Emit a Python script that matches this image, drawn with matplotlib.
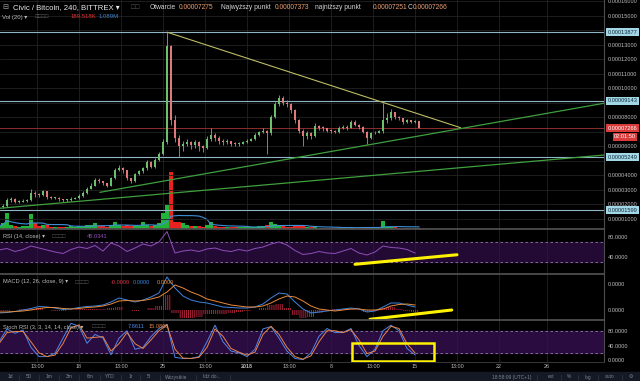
import numpy as np
import pandas as pd
import matplotlib
matplotlib.use('Agg')
import matplotlib.pyplot as plt
from matplotlib.patches import Rectangle
from matplotlib.lines import Line2D

plt.rcParams['font.family'] = ['Liberation Sans', 'DejaVu Sans']
plt.rcParams['hatch.linewidth'] = 0.7

# ---- data (prices in units of 1e-5 BTC, time in days from 25 Dec 00:00) ----
first_open = 1.80
close = [1.85,
         1.90, 2.30, 2.40, 2.20, 2.20, 2.25, 2.30, 2.80, 2.70, 2.65,
         2.90, 2.50, 2.45, 2.45, 2.35, 2.30, 2.30, 2.40, 2.45, 2.60,
         2.80, 3.10, 3.30, 3.70, 3.60, 3.45, 3.30, 3.80, 4.40, 4.50,
         4.35, 3.80, 3.60, 4.10, 4.30, 4.50, 4.95, 4.60, 5.10, 5.50,
         6.30, 12.90, 7.80, 6.60, 6.00, 6.20, 6.30, 6.10, 6.30, 6.00,
         5.90, 6.50, 6.80, 6.60, 6.40, 6.30, 6.35, 6.20, 6.15, 6.20,
         6.30, 6.40, 6.50, 6.80, 7.00, 7.10, 6.90, 8.05, 8.90, 9.35,
         9.00, 8.90, 8.50, 7.80, 7.10, 6.70, 6.90, 6.70, 7.40, 7.30,
         7.25, 7.10, 7.05, 7.00, 7.30, 7.35, 7.30, 7.70, 7.50, 7.35,
         7.00, 6.60, 6.90, 6.95, 7.05, 7.80, 7.95, 8.35, 8.00, 7.95,
         7.70, 7.80, 7.70, 7.75, 7.27]
high = [1.95,
        2.00, 2.45, 2.55, 2.45, 2.30, 2.35, 2.40, 3.10, 2.90, 2.80,
        3.00, 2.95, 2.60, 2.55, 2.50, 2.40, 2.40, 2.50, 2.55, 2.70,
        2.90, 3.20, 3.45, 3.85, 3.80, 3.65, 3.50, 3.90, 4.55, 4.70,
        4.60, 4.40, 3.85, 4.20, 4.40, 4.60, 5.05, 5.00, 5.20, 5.65,
        6.50, 13.88, 13.00, 8.20, 6.80, 6.40, 6.50, 6.40, 6.45, 6.35,
        6.10, 6.70, 7.27, 6.90, 6.70, 6.50, 6.50, 6.40, 6.30, 6.30,
        6.40, 6.50, 6.60, 6.90, 7.10, 7.25, 7.15, 8.20, 9.10, 9.55,
        9.45, 9.20, 9.00, 8.60, 7.90, 7.20, 7.10, 7.00, 7.60, 7.50,
        7.40, 7.30, 7.20, 7.15, 7.40, 7.50, 7.45, 7.85, 7.80, 7.55,
        7.40, 7.05, 7.00, 7.10, 7.15, 9.00, 8.30, 8.55, 8.40, 8.10,
        7.95, 7.90, 7.85, 7.85, 7.78]
low = [1.75,
       1.75, 1.85, 2.20, 2.10, 2.10, 2.15, 2.20, 2.25, 2.55, 2.55,
       2.60, 2.40, 2.35, 2.35, 2.25, 2.20, 2.20, 2.25, 2.35, 2.40,
       2.55, 2.75, 3.05, 3.25, 3.45, 3.35, 3.20, 3.25, 3.75, 4.30,
       4.20, 3.70, 3.45, 3.55, 4.00, 4.20, 4.40, 4.50, 4.55, 5.00,
       5.40, 6.20, 7.50, 6.30, 5.30, 5.70, 6.00, 5.80, 5.90, 5.70,
       5.60, 5.85, 6.40, 6.40, 6.20, 6.10, 6.15, 6.05, 6.00, 6.05,
       6.15, 6.25, 6.35, 6.45, 6.70, 6.90, 5.50, 6.80, 7.95, 8.80,
       8.85, 8.70, 8.30, 7.60, 6.90, 6.00, 6.50, 6.50, 6.65, 7.15,
       7.10, 7.00, 6.95, 6.90, 6.95, 7.20, 7.15, 7.25, 7.40, 7.20,
       6.90, 6.20, 6.50, 6.85, 6.90, 6.95, 7.65, 7.85, 7.90, 7.80,
       7.55, 7.60, 7.60, 7.60, 7.25]
volume = [1.2, 2.0, 5.8, 1.5, 1.0, 0.8, 1.0, 1.2, 5.3, 2.0,
          1.2, 1.5, 1.3, 0.9, 0.8, 0.9, 0.7, 0.8, 1.1, 0.9,
          1.0, 1.2, 1.5, 1.3, 2.0, 1.2, 1.0, 0.9, 1.4, 2.6,
          1.5, 1.0, 1.3, 1.0, 1.1, 1.2, 2.6, 1.5, 1.2, 1.6,
          2.0, 5.8, 8.7, 20.6, 2.6, 2.5, 2.0, 1.5, 1.2, 1.0,
          1.0, 0.9, 1.5, 2.5, 1.2, 0.9, 0.8, 0.7, 0.6, 0.6,
          0.6, 0.7, 0.7, 0.8, 0.9, 1.0, 1.2, 1.5, 2.5, 1.8,
          1.3, 1.0, 0.8, 0.8, 1.0, 1.0, 1.1, 0.7, 0.6, 0.7,
          0.5, 0.5, 0.5, 0.4, 0.5, 0.5, 0.5, 0.4, 0.6, 0.5,
          0.5, 0.6, 0.8, 0.5, 0.5, 0.5, 2.9, 0.9, 0.8, 0.6,
          0.5, 0.5, 0.4, 0.4, 0.4, 0.2]

rsi = [54, 57, 51, 55, 62, 58, 54, 50, 47, 55,
       60, 57, 63, 52, 68, 62, 51, 58, 66, 62,
       70, 91, 48, 52, 54, 51, 56, 58, 53, 51,
       55, 52, 57, 60, 66, 70, 64, 53, 45, 47,
       51, 48, 47, 52, 57, 48, 44, 50, 62, 59,
       58, 55, 48]
macd = [-3, -2.5, -1.5, 0, 1.5, 3.5, 3, 2, 0.5, 1,
        2.5, 3.5, 4, 5, 8, 12, 10, 8, 10, 13,
        17, 33, 22, 14, 10, 8, 7, 5, 3, 2.5,
        2, 2, 3, 6, 12, 17, 16, 8, 1, -3,
        -2, -1, 0, 1, 2, 1, -2, -1, 3, 7,
        7, 5, 3]
signal = [-2, -2, -1.5, -1, 0, 1.5, 2.5, 2.5, 1.5, 1,
          1.5, 2.5, 3, 4, 6, 9, 9.5, 9, 9.5, 11,
          13, 18, 25, 22, 18, 15, 11, 9, 7, 5,
          4, 3, 3, 4, 7, 11, 14, 13, 9, 4,
          1, 0, -1, 0, 1, 1, 0, 0, 1, 4,
          5.5, 6, 5]
stoch_k = [50, 85, 73, 82, 35, 10, 10, 19, 60, 100,
           92, 46, 70, 60, 15, 60, 80, 30, 35, 64,
           86, 97, 8, 5, 5, 10, 50, 95, 50, 25,
           20, 10, 30, 85, 91, 60, 25, 5, 2, 20,
           65, 86, 75, 75, 86, 40, 10, 30, 80, 95,
           80, 32, 15]
stoch_d = [45, 75, 78, 78, 50, 20, 10, 14, 45, 88,
           96, 60, 62, 64, 25, 45, 75, 45, 32, 55,
           80, 95, 30, 6, 5, 8, 35, 85, 65, 32,
           22, 14, 22, 70, 92, 70, 35, 10, 3, 12,
           50, 80, 80, 75, 83, 55, 18, 25, 65, 92,
           86, 45, 20]

level_lines = [13.877, 9.143, 5.249, 1.599]
last_price = 7.266
price_ticks = [1, 2, 3, 4, 6, 8, 10, 11, 12, 13, 15, 16]
trend_yellow = [(0.36, 13.877), (24.78, 7.30)]
trend_green = [[(-5.25, 2.84), (36.75, 8.98)], [(-13.58, 1.74), (36.75, 5.41)]]
rsi_mark = [(16.0, 25.4), (24.5, 44.5)]
macd_mark = [(17.25, -9.3), (24.06, 0.0)]
stoch_box = (15.71, -3, 6.87, 49)

tick_days = [-10.5, -7, -3.5, 0, 3.5, 7, 10.5, 14, 17.5, 21, 24.5, 28, 32]
tick_text = ['13:00', '18', '13:00', '25', '13:00', '2018', '13:00', '8',
             '13:00', '15', '13:00', '22', '26']

# ---- derived ----
t = -13.667 + np.arange(len(close)) / 3.0
ti = t[::2]
close = np.array(close)
opens = np.r_[first_open, close[:-1]]
up = close >= opens
vol_ma = pd.Series(volume).rolling(10, min_periods=1).mean()
hist = np.array(macd) - np.array(signal)

W, H = 640, 381
XL = (-13.583, 36.75)
GRID = '#222222'
SEP = '#4d4d4d'
LBL = '#bdbdbd'
AX_FS = 4.1


def box(top, bottom, left=0, right=604):
    return [left / W, 1 - bottom / H, (right - left) / W, (bottom - top) / H]


def ftxt(x, y, s, color=LBL, size=4.1, **kw):
    fig.text(x / W, 1 - y / H, s, color=color, fontsize=size, va='center', **kw)


fig = plt.figure(figsize=(6.4, 3.81), dpi=100, facecolor='black')

ax_vol = fig.add_axes(box(0, 229), facecolor='black')
ax = fig.add_axes(box(0, 229), facecolor='none')
ax_rsi = fig.add_axes(box(229, 274), facecolor='black')
ax_macd = fig.add_axes(box(274, 320), facecolor='black')
ax_st = fig.add_axes(box(320, 362), facecolor='black')

for a in (ax_vol, ax, ax_rsi, ax_macd, ax_st):
    a.set_xlim(*XL)
    a.set_xticks(tick_days)
    a.tick_params(axis='x', length=0, labelbottom=False)
    a.tick_params(axis='y', length=0, labelsize=AX_FS, labelcolor=LBL, pad=2.8)
    a.yaxis.tick_right()
    for s in a.spines.values():
        s.set_visible(False)

for a in (ax_rsi, ax_macd, ax_st):
    a.grid(True, axis='x', color=GRID, lw=0.6)
    a.set_axisbelow(True)
    a.spines['top'].set_visible(True)
    a.spines['top'].set_color(SEP)
    a.spines['top'].set_linewidth(1.3)
    a.spines['right'].set_visible(True)
    a.spines['right'].set_color(SEP)
    a.spines['right'].set_linewidth(0.8)

# volume
ax_vol.set_ylim(0, 83)
ax_vol.set_yticks([])
ax_vol.grid(True, axis='x', color=GRID, lw=0.6)
ax_vol.bar(t, volume, width=0.26, color=np.where(up, '#22b33a', '#e8231f'), zorder=2)
ax_vol.plot(t, vol_ma, color='#3f8fd8', lw=0.8, zorder=3)

# price
ax.set_ylim(0.31, 16.1)
ax.set_yticks(price_ticks)
ax.set_yticklabels([f'{v * 1e-5:.8f}' for v in price_ticks])
for v in range(1, 17):
    ax.axhline(v, color=GRID, lw=0.6, zorder=0)
ax.spines['right'].set_visible(True)
ax.spines['right'].set_color(SEP)
ax.spines['right'].set_linewidth(0.8)

for lv in level_lines:
    ax.axhline(lv, color='#8fb4c4', lw=0.8, zorder=2)
ax.axhline(last_price, color='#a33434', lw=0.6, zorder=2)

cols = np.where(up, '#6dbf6d', '#e0787c')
ax.vlines(t, low, high, color=cols, lw=0.6, zorder=3)
body = np.maximum(np.abs(close - opens), 0.06)
ax.bar(t, body, bottom=np.minimum(opens, close), width=0.24, color=cols, zorder=4)

(x0, y0), (x1, y1) = trend_yellow
ax.plot([x0, x1], [y0, y1], color='#bcbc66', lw=0.8, zorder=5)
for seg in trend_green:
    (x0, y0), (x1, y1) = seg
    ax.plot([x0, x1], [y0, y1], color='#3f9f3f', lw=0.9, zorder=5)

ytr = ax.get_yaxis_transform()
for lv in level_lines:
    ax.text(1.006, lv, f'{lv * 1e-5:.8f}', transform=ytr, fontsize=AX_FS, color='#0d2a36',
            va='center', ha='left', zorder=10, clip_on=False,
            bbox=dict(boxstyle='square,pad=0.25', fc='#a3d6e6', ec='none'))
ax.text(1.006, last_price, f'{last_price * 1e-5:.8f}', transform=ytr, fontsize=AX_FS,
        color='white', va='center', ha='left', zorder=10, clip_on=False,
        bbox=dict(boxstyle='square,pad=0.25', fc='#d93a3a', ec='none'))
ax.text(636 / 604, 6.68, '02:01:50', transform=ytr, fontsize=AX_FS, color='white',
        va='center', ha='right', zorder=10, clip_on=False,
        bbox=dict(boxstyle='square,pad=0.25', fc='#d93a3a', ec='none'))

# RSI
ax_rsi.set_ylim(6, 96)
ax_rsi.axhspan(30, 70, color='#230a35', zorder=0)
for lv in (70, 30):
    ax_rsi.axhline(lv, color='#8a7d9c', lw=0.6, ls=(0, (3, 3)), zorder=1)
ax_rsi.plot(ti, rsi, color='#8f4fb8', lw=0.7, zorder=3)
(x0, y0), (x1, y1) = rsi_mark
ax_rsi.plot([x0, x1], [y0, y1], color='#fff200', lw=2.2, solid_capstyle='round', zorder=5)
ax_rsi.set_yticks([80, 40])
ax_rsi.set_yticklabels(['80.0000', '40.0000'])

# MACD
ax_macd.set_ylim(-10, 36)
ax_macd.bar(ti, hist, width=0.667, color='none', edgecolor='#b3243c', hatch='||||||||',
            lw=0, zorder=2)
ax_macd.plot(ti, macd, color='#3d85e0', lw=0.7, zorder=3)
ax_macd.plot(ti, signal, color='#e88a3a', lw=0.7, zorder=3)
(x0, y0), (x1, y1) = macd_mark
ax_macd.plot([x0, x1], [y0, y1], color='#fff200', lw=2.2, solid_capstyle='round', zorder=5)
ax_macd.set_yticks([26, 0])
ax_macd.set_yticklabels(['0.0000', '0.0000'])

# Stoch RSI
ax_st.set_ylim(-4.6, 109)
ax_st.axhspan(20, 80, color='#2a0c40', zorder=0)
for lv in (80, 20):
    ax_st.axhline(lv, color='#8a7d9c', lw=0.6, ls=(0, (3, 3)), zorder=1)
ax_st.plot(ti, stoch_k, color='#4f86e8', lw=0.7, zorder=3)
ax_st.plot(ti, stoch_d, color='#e8844a', lw=0.7, zorder=3)
bx, by, bw, bh = stoch_box
ax_st.add_patch(Rectangle((bx, by), bw, bh, fill=False, ec='#fff200', lw=1.8, zorder=5))
ax_st.set_yticks([80, 40, 0])
ax_st.set_yticklabels(['80.0000', '40.0000', '0.0000'])
ax_st.spines['bottom'].set_visible(True)
ax_st.spines['bottom'].set_color('#333333')
ax_st.tick_params(axis='x', labelbottom=True, labelsize=3.9, labelcolor=LBL, pad=1.5)
ax_st.set_xticklabels(tick_text)
for lab in ax_st.get_xticklabels():
    if lab.get_text() == '2018':
        lab.set_fontweight('bold')

# header texts
ftxt(2, 7.5, '⊟', color='#a0a0a0', size=5.2)
ftxt(13, 7.5, 'Civic / Bitcoin, 240, BITTREX ▾', color='#e8e8e8', size=5.6)
ftxt(131, 7.5, '□□', color='#555555', size=5.0)
ohlc = [(150, 'Otwarcie', 179, '0.00007275'), (221, 'Najwyższy punkt', 275, '0.00007373'),
        (315, 'najniższy punkt', 373, '0.00007251'), (408, 'C', 413, '0.00007266')]
for xa, name, xb, val in ohlc:
    ftxt(xa, 7.5, name, color='#d8d8d8', size=4.8)
    ftxt(xb, 7.5, val, color='#f0a070', size=4.8)

ftxt(2, 17, 'Vol (20) ▾', size=4.3)
ftxt(35, 17, '□□□□', color='#555555', size=4.3)
ftxt(71, 17, '189.518K', color='#e03030', size=4.3)
ftxt(99, 17, '1.089M', color='#3a86d0', size=4.3)

ftxt(3, 236, 'RSI (14, close) ▾')
ftxt(52, 236, '□□□□', color='#555555')
ftxt(87, 236, '45.0341', color='#9a4fc0')

ftxt(3, 282, 'MACD (12, 26, close, 9) ▾')
ftxt(75, 282, '□□□□', color='#555555')
ftxt(111, 282, '-0.0000', color='#d83a4a')
ftxt(133, 282, '0.0000', color='#3d85e0')
ftxt(157, 282, '0.0000', color='#e88a3a')

ftxt(3, 327, 'Stoch RSI (3, 3, 14, 14, close) ▾')
ftxt(92, 327, '□□□□', color='#555555')
ftxt(128, 327, '7.8611', color='#4f86e8')
ftxt(149, 327, '15.0808', color='#e8844a')

# bottom toolbar
fig.patches.append(Rectangle((0, 0), 1, 9 / H, transform=fig.transFigure,
                             color='#141925', zorder=0))
tools = [(10, '1d'), (29, '5D'), (49, '1m'), (69, '3m'), (90, '6m'), (110, 'YTD'),
         (131, '1r'), (149, '5l'), (176, 'Wszystkie'), (212, 'Idź do...'),
         (512, '18:58:09 (UTC+1)'), (551, 'ext'), (569, '%'), (588, 'log'),
         (610, 'auto'), (631, '⚙')]
for x, s in tools:
    ftxt(x, 377, s, color='#7b8494', size=3.5, ha='center')
for x in (19, 39, 59, 79, 100, 121, 140, 160, 196, 230, 537, 561, 578, 598, 622):
    fig.add_artist(Line2D([x / W, x / W], [1 - 374.5 / H, 1 - 379.5 / H],
                          color='#2a3142', lw=0.6))

fig.savefig('out.png', dpi=100, facecolor='black')
